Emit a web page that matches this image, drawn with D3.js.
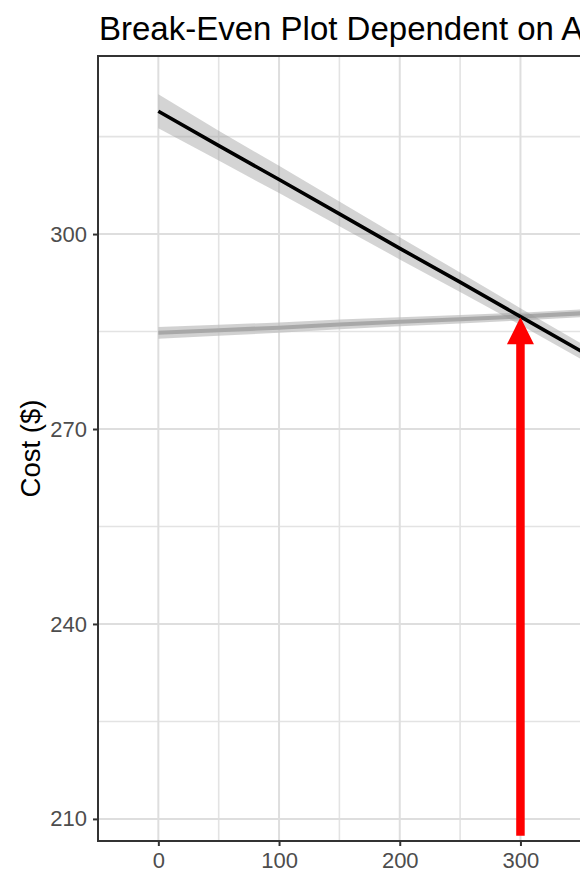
<!DOCTYPE html>
<html>
<head>
<meta charset="utf-8">
<script src="https://cdn.jsdelivr.net/npm/d3@7"></script>
<style>
  html, body { margin: 0; padding: 0; background: #fff; }
  svg { display: block; font-family: "Liberation Sans", Arial, sans-serif; }
</style>
</head>
<body>
<svg id="chart" width="580" height="877"></svg>
<script>
// ---- data ----
const titleText = "Break-Even Plot Dependent on A";
const yTitle = "Cost ($)";
const xTicks = [0, 100, 200, 300];
const xGridMajor = [0, 100, 200, 300, 400];
const xMinorTicks = [50, 150, 250, 350];
const yTicks = [210, 240, 270, 300];
const yMinorTicks = [225, 255, 285, 315];

const xValues = [0, 50, 100, 150, 200, 250, 300, 350, 400];
const costFit   = [318.9, 313.6, 308.4, 303.1, 297.8, 292.6, 287.3, 282.0, 276.8];
const costLower = [316.3, 311.3, 306.3, 301.2, 296.1, 291.1, 286.0, 280.8, 275.7];
const costUpper = [321.5, 315.9, 310.5, 305.0, 299.5, 294.1, 288.6, 283.2, 277.9];
const altFit    = [284.8, 285.2, 285.6, 286.1, 286.5, 286.9, 287.3, 287.8, 288.2];
const altLower  = [283.9, 284.35, 284.8, 285.35, 285.8, 286.25, 286.7, 287.2, 287.65];
const altUpper  = [285.7, 286.05, 286.4, 286.85, 287.2, 287.55, 287.9, 288.4, 288.75];

const arrowX = 300;
const arrowFrom = 207.4;
const arrowTo = 287.2;

// ---- layout ----
const svg = d3.select("#chart");
const panel = { left: 98, top: 56, bottom: 841 };
const x = d3.scaleLinear().domain([-50, 1050]).range([panel.left, panel.left + 1100 * 1.207]);
const y = d3.scaleLinear().domain([206.6, 327.4]).range([panel.bottom, panel.top]);
const panelRight = x(1050);

svg.append("defs").append("clipPath").attr("id", "clip")
  .append("rect").attr("x", panel.left).attr("y", panel.top)
  .attr("width", panelRight - panel.left).attr("height", panel.bottom - panel.top);

svg.append("rect").attr("x", panel.left).attr("y", panel.top)
  .attr("width", panelRight - panel.left).attr("height", panel.bottom - panel.top)
  .attr("fill", "#fff");

const grid = svg.append("g").attr("clip-path", "url(#clip)");
grid.selectAll(".vminor").data(xMinorTicks).join("line")
  .attr("x1", d => x(d)).attr("x2", d => x(d)).attr("y1", panel.top).attr("y2", panel.bottom)
  .attr("stroke", "#e3e3e3").attr("stroke-width", 1.6);
grid.selectAll(".hminor").data(yMinorTicks).join("line")
  .attr("y1", d => y(d)).attr("y2", d => y(d)).attr("x1", panel.left).attr("x2", panelRight)
  .attr("stroke", "#e3e3e3").attr("stroke-width", 1.6);
grid.selectAll(".vmajor").data(xGridMajor).join("line")
  .attr("x1", d => x(d)).attr("x2", d => x(d)).attr("y1", panel.top).attr("y2", panel.bottom)
  .attr("stroke", "#dedede").attr("stroke-width", 2);
grid.selectAll(".hmajor").data(yTicks).join("line")
  .attr("y1", d => y(d)).attr("y2", d => y(d)).attr("x1", panel.left).attr("x2", panelRight)
  .attr("stroke", "#dedede").attr("stroke-width", 2);

const plot = svg.append("g").attr("clip-path", "url(#clip)");
const idx = d3.range(xValues.length);

const area = (lo, hi) => d3.area().x(i => x(xValues[i])).y0(i => y(lo[i])).y1(i => y(hi[i]));
const line = (v) => d3.line().x(i => x(xValues[i])).y(i => y(v[i]));

plot.append("path").attr("d", area(altLower, altUpper)(idx))
  .attr("fill", "#bdbdbd").attr("opacity", 0.7);
plot.append("path").attr("d", line(altFit)(idx))
  .attr("fill", "none").attr("stroke", "#a8a8a8").attr("stroke-width", 4);

plot.append("path").attr("d", area(costLower, costUpper)(idx))
  .attr("fill", "#999999").attr("opacity", 0.42);
plot.append("path").attr("d", line(costFit)(idx))
  .attr("fill", "none").attr("stroke", "#000").attr("stroke-width", 3.6);

const ax = x(arrowX), ay0 = y(arrowFrom), ay1 = y(arrowTo);
const headH = 27, headW = 27;
plot.append("line").attr("x1", ax).attr("x2", ax).attr("y1", ay0).attr("y2", ay1 + headH - 1)
  .attr("stroke", "#ff0000").attr("stroke-width", 8.5);
plot.append("path")
  .attr("d", `M${ax},${ay1} L${ax - headW / 2},${ay1 + headH} L${ax + headW / 2},${ay1 + headH} Z`)
  .attr("fill", "#ff0000");

svg.append("rect").attr("x", panel.left).attr("y", panel.top)
  .attr("width", panelRight - panel.left).attr("height", panel.bottom - panel.top)
  .attr("fill", "none").attr("stroke", "#333").attr("stroke-width", 2);

const xAxis = d3.axisBottom(x).tickValues(xTicks).tickSize(5).tickPadding(6).tickFormat(d3.format("d"));
const gx = svg.append("g").attr("transform", `translate(0,${panel.bottom})`).call(xAxis);
gx.select(".domain").remove();
gx.selectAll(".tick line").attr("stroke", "#333").attr("stroke-width", 2);
gx.selectAll(".tick text").attr("fill", "#4d4d4d").attr("font-size", 22)
  .attr("font-family", "Liberation Sans, Arial, sans-serif");

const yAxis = d3.axisLeft(y).tickValues(yTicks).tickSize(5).tickPadding(6).tickFormat(d3.format("d"));
const gy = svg.append("g").attr("transform", `translate(${panel.left},0)`).call(yAxis);
gy.select(".domain").remove();
gy.selectAll(".tick line").attr("stroke", "#333").attr("stroke-width", 2);
gy.selectAll(".tick text").attr("fill", "#4d4d4d").attr("font-size", 22)
  .attr("font-family", "Liberation Sans, Arial, sans-serif");

svg.append("text").attr("x", 99).attr("y", 40).text(titleText)
  .attr("font-size", 33).attr("fill", "#000");
svg.append("text").attr("transform", `translate(40,${(panel.top + panel.bottom) / 2}) rotate(-90)`)
  .attr("text-anchor", "middle").text(yTitle).attr("font-size", 27.5).attr("fill", "#000");
</script>
</body>
</html>
